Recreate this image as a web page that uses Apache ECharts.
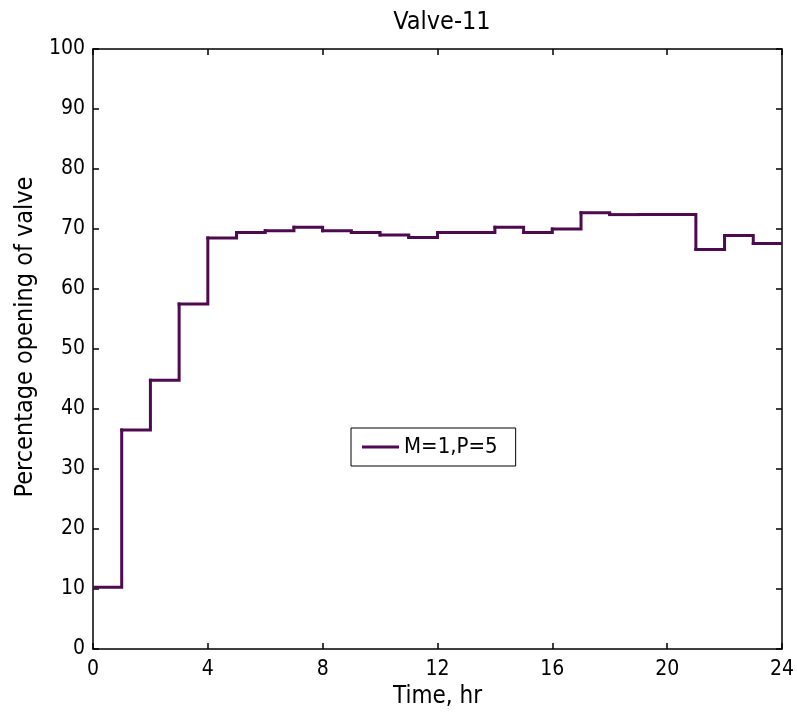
<!DOCTYPE html>
<html>
<head>
<meta charset="utf-8">
<script src="https://cdn.jsdelivr.net/npm/echarts@6/dist/echarts.min.js"></script>
<style>
  html, body { margin: 0; padding: 0; background: #fff; }
  #chart { width: 797px; height: 717px; }
</style>
</head>
<body>
<div id="chart"></div>
<script>
// valve opening held over each hour (zero-order hold), value for hour i holds from i to i+1
const hours = [0, 1, 2, 3, 4, 5, 6, 7, 8, 9, 10, 11, 12, 13, 14, 15, 16, 17, 18, 19, 20, 21, 22, 23];
const opening = [10.3, 36.5, 44.8, 57.5, 68.5, 69.4, 69.7, 70.3, 69.7, 69.4, 69.0, 68.6, 69.4, 69.4, 70.3, 69.4, 70.0, 72.7, 72.4, 72.4, 72.4, 66.6, 68.9, 67.6];
const xTicks = [0, 4, 8, 12, 16, 20, 24];
const yTicks = [0, 10, 20, 30, 40, 50, 60, 70, 80, 90, 100];

const fontFamily = "'DejaVu Sans Condensed', 'Liberation Sans', Arial, sans-serif";
const lineColor = '#4e0a4e';

let chart = echarts.init(document.getElementById('chart'));

// each item: [start hour, value, value of next hour]
let holdData = hours.map((h, i) => [h, opening[i], i + 1 < opening.length ? opening[i + 1] : opening[i]]);

// custom series so that small steps are not merged away by the line simplifier
function renderHold(params, api) {
    let h = api.value(0);
    let v = api.value(1);
    let vNext = api.value(2);
    let p0 = api.coord([h, v]);
    let p1 = api.coord([h + 1, v]);
    let p2 = api.coord([h + 1, vNext]);
    return {
        type: 'polyline',
        shape: { points: [p0, p1, p2] },
        style: { stroke: lineColor, lineWidth: 3, fill: null, lineJoin: 'miter', lineCap: 'square' }
    };
}

let axisBase = {
    axisLine: { show: true, onZero: false, lineStyle: { color: '#000', width: 1.5 } },
    axisTick: { show: true, inside: true, length: 6, lineStyle: { color: '#000', width: 1.5 } },
    splitLine: { show: false }
};

let option = {
    backgroundColor: '#fff',
    animation: false,
    title: {
        text: 'Valve-11',
        left: 437,
        textAlign: 'center',
        top: 5,
        textStyle: { fontFamily: fontFamily, fontWeight: 'normal', fontSize: 25, color: '#000' }
    },
    legend: {
        left: 351,
        top: 428,
        orient: 'horizontal',
        icon: 'rect',
        itemWidth: 37,
        itemHeight: 3,
        padding: [8, 18, 8, 11],
        borderColor: '#000',
        borderWidth: 1,
        backgroundColor: '#fff',
        textStyle: { fontFamily: fontFamily, fontSize: 22, color: '#000' },
        data: ['M=1,P=5']
    },
    grid: { left: 93, right: 11, top: 49, bottom: 68 },
    xAxis: [
        Object.assign({}, axisBase, {
            type: 'value',
            min: 0, max: 24, interval: 4,
            position: 'bottom',
            name: 'Time, hr',
            nameLocation: 'middle',
            nameGap: 36,
            nameTextStyle: { fontFamily: fontFamily, fontSize: 24, color: '#000' },
            axisLabel: {
                fontFamily: fontFamily, fontSize: 21, color: '#000', margin: 10,
                formatter: v => xTicks.includes(v) ? String(v) : ''
            }
        }),
        Object.assign({}, axisBase, {
            type: 'value',
            min: 0, max: 24, interval: 4,
            position: 'top',
            axisLabel: { show: false }
        })
    ],
    yAxis: [
        Object.assign({}, axisBase, {
            type: 'value',
            min: 0, max: 100, interval: 10,
            position: 'left',
            name: 'Percentage opening of valve',
            nameLocation: 'middle',
            nameGap: 55,
            nameTextStyle: { fontFamily: fontFamily, fontSize: 25, color: '#000', padding: [0, 0, 0, 24] },
            axisLabel: {
                fontFamily: fontFamily, fontSize: 21, color: '#000', margin: 8,
                formatter: v => yTicks.includes(v) ? String(v) : ''
            }
        }),
        Object.assign({}, axisBase, {
            type: 'value',
            min: 0, max: 100, interval: 10,
            position: 'right',
            axisLabel: { show: false }
        })
    ],
    series: [
        {
            name: 'M=1,P=5',
            type: 'custom',
            renderItem: renderHold,
            clip: true,
            itemStyle: { color: lineColor },
            encode: { x: 0, y: 1 },
            data: holdData
        }
    ]
};

chart.setOption(option, true);
</script>
</body>
</html>
